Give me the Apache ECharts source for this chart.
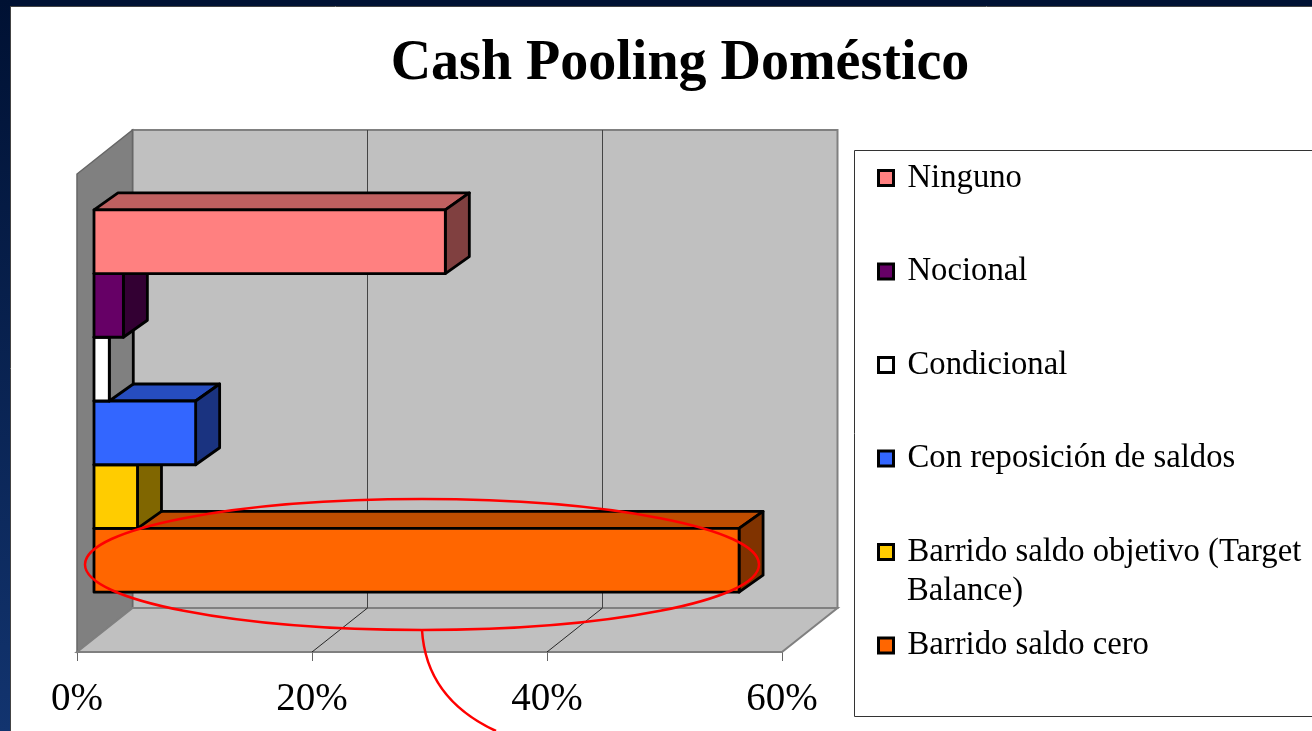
<!DOCTYPE html>
<html><head><meta charset="utf-8">
<style>html,body{margin:0;padding:0;background:#fff}#c{width:1312px;height:731px}</style>
<script src="https://cdn.jsdelivr.net/npm/echarts@6/dist/echarts.min.js"></script>
</head><body><div id="c"></div>
<script>
const titleText = 'Cash Pooling Doméstico';
const categories = ['Ninguno','Nocional','Condicional','Con reposición de saldos','Barrido saldo objetivo (Target Balance)','Barrido saldo cero'];
const values = [29.9, 2.5, 1.3, 8.65, 3.7, 54.9];
const colors = ['#ff8080','#660066','#ffffff','#3366ff','#ffcc00','#ff6600'];
const xTicks = [0,20,40,60];
const SERIF = '"Liberation Serif","Times New Roman",serif';
const GAP = 0.75, YMAX = 7.5;
const BAR_SHIFT = [17,-12], BAR_DEPTH = [24,-17], WALL_DEPTH = [55.5,-44];

function shade(hex,f){
  const n=parseInt(hex.slice(1),16);
  const c=[(n>>16)&255,(n>>8)&255,n&255].map(v=>Math.round(v*f));
  return 'rgb('+c.join(',')+')';
}
function off(p,d){return [p[0]+d[0],p[1]+d[1]];}

function wallsRender(params,api){
  const o=api.coord([0,0]), xe=api.coord([60,0]), ty=api.coord([0,YMAX]);
  const bo=off(o,WALL_DEPTH), bx=off(xe,WALL_DEPTH), bt=off(ty,WALL_DEPTH), btx=[bx[0],bt[1]];
  const ch=[
    {type:'polygon',shape:{points:[bo,bx,btx,bt]},style:{fill:'#c0c0c0',stroke:'#808080',lineWidth:2}},
    {type:'polygon',shape:{points:[o,bo,bt,ty]},style:{fill:'#808080',stroke:'#666666',lineWidth:1.5}},
    {type:'polygon',shape:{points:[o,xe,bx,bo]},style:{fill:'#c0c0c0',stroke:'#808080',lineWidth:2}}
  ];
  xTicks.slice(1,-1).forEach(t=>{
    const f=api.coord([t,0]), b=off(f,WALL_DEPTH);
    ch.push({type:'line',shape:{x1:f[0],y1:f[1],x2:b[0],y2:b[1]},style:{stroke:'#000',lineWidth:0.8}});
    ch.push({type:'line',shape:{x1:b[0],y1:b[1],x2:b[0],y2:bt[1]},style:{stroke:'#444',lineWidth:1}});
  });
  return {type:'group',children:ch};
}
function barRender(params,api){
  const v=api.value(0), slot=api.value(1), color=api.visual('color');
  const x0=api.coord([0,slot+1]), x1=api.coord([v,slot+1]), x2=api.coord([v,slot]), x3=api.coord([0,slot]);
  const tl=off(x0,BAR_SHIFT), tr=off(x1,BAR_SHIFT), br=off(x2,BAR_SHIFT), bl=off(x3,BAR_SHIFT);
  const st={stroke:'#000',lineWidth:2.8,lineJoin:'round'};
  return {type:'group',children:[
    {type:'polygon',shape:{points:[tl,tr,off(tr,BAR_DEPTH),off(tl,BAR_DEPTH)]},style:Object.assign({fill:shade(color,0.75)},st)},
    {type:'polygon',shape:{points:[tr,br,off(br,BAR_DEPTH),off(tr,BAR_DEPTH)]},style:Object.assign({fill:shade(color,0.5)},st)},
    {type:'polygon',shape:{points:[tl,tr,br,bl]},style:Object.assign({fill:color},st)}
  ]};
}
const barSeries=categories.map((name,i)=>{
  const slotIndex=categories.length-1-i;
  return {type:'custom',name:name,coordinateSystem:'cartesian2d',z:10+slotIndex,
    itemStyle:{color:colors[i]},renderItem:barRender,clip:false,silent:true,
    encode:{x:0,y:1},data:[[values[i],GAP+slotIndex]]};
});
const chart=echarts.init(document.getElementById('c'),null,{renderer:'canvas'});
chart.setOption({
  animation:false,
  backgroundColor:'#ffffff',
  title:{text:titleText,left:675,top:32,textAlign:'center',textStyle:{fontFamily:SERIF,fontWeight:'bold',fontSize:56,color:'#000'}},
  grid:{left:77,top:174,width:705,height:478,containLabel:false},
  xAxis:{type:'value',min:0,max:60,interval:20,
    axisLine:{show:true,lineStyle:{color:'#808080',width:2}},
    axisTick:{show:true,length:9,lineStyle:{color:'#666',width:1}},
    splitLine:{show:false},
    axisLabel:{formatter:'{value}%',fontFamily:SERIF,fontSize:39,color:'#000',margin:28}},
  yAxis:{type:'value',min:0,max:YMAX,show:false},
  legend:{orient:'vertical',left:877,top:161.5,padding:0,itemGap:60.5,icon:'rect',itemWidth:15,itemHeight:15,
    data:categories,selectedMode:false,
    formatter:n=>n==='Barrido saldo objetivo (Target Balance)'?'Barrido saldo objetivo (Target':n,
    itemStyle:{borderColor:'#000',borderWidth:3},
    textStyle:{fontFamily:SERIF,fontSize:32.7,color:'#000',padding:[0,0,0,9]}},
  graphic:[
    {type:'rect',z:-5,silent:true,shape:{x:0,y:0,width:1312,height:6},style:{fill:'#001133'}},
    {type:'rect',z:-5,silent:true,shape:{x:0,y:0,width:10,height:731},style:{fill:new echarts.graphic.LinearGradient(0,0,0,1,[{offset:0,color:'#001133'},{offset:1,color:'#12346f'}])}},
    {type:'line',z:-4,silent:true,shape:{x1:10.5,y1:6,x2:10.5,y2:731},style:{stroke:'#444',lineWidth:1}},
    {type:'line',z:-4,silent:true,shape:{x1:10,y1:6.5,x2:1312,y2:6.5},style:{stroke:'#444',lineWidth:1}},
    {type:'rect',z:-3,silent:true,shape:{x:854.5,y:150.5,width:480,height:566},style:{fill:'#fff',stroke:'#333',lineWidth:1}},
    {type:'text',z:20,silent:true,style:{x:907,y:591,text:'Balance)',fontFamily:SERIF,fontSize:32.7,fill:'#000',verticalAlign:'middle'}},
    {type:'ellipse',z:100,silent:true,shape:{cx:422,cy:564.5,rx:337,ry:65.5},style:{fill:'none',stroke:'#ff0000',lineWidth:2.5}},
    {type:'bezierCurve',z:100,silent:true,shape:{x1:422,y1:630,cpx1:425,cpy1:680,cpx2:455,cpy2:712,x2:496,y2:731},style:{fill:'none',stroke:'#ff0000',lineWidth:2.5}}
  ],
  series:[{type:'custom',name:'walls',coordinateSystem:'cartesian2d',z:1,silent:true,clip:false,renderItem:wallsRender,encode:{x:0,y:1},data:[[0,0]]}].concat(barSeries)
});
</script></body></html>
